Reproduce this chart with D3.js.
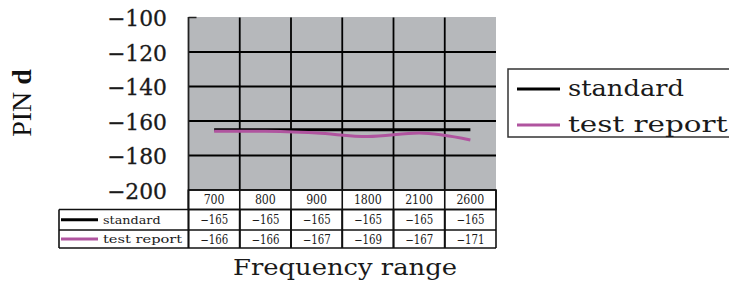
<!DOCTYPE html>
<html><head><meta charset="utf-8">
<script src="https://cdn.jsdelivr.net/npm/d3@7/dist/d3.min.js"></script>
<style>body{margin:0;background:#fff;}svg{display:block;}</style>
</head><body>
<script>
const categories = ["700","800","900","1800","2100","2600"];
const standard = [-165,-165,-165,-165,-165,-165];
const testReport = [-166,-166,-167,-169,-167,-171];
const yTicks = [-100,-120,-140,-160,-180,-200];
const seriesNames = ["standard","test report"];
const colors = ["#000000","#b0549f"];

const W=729,H=283;
const svg=d3.select("body").append("svg").attr("width",W).attr("height",H);
const serif="'DejaVu Serif', serif";
const L=188.5,R=496,T=17.5,B=190;
const x=d3.scaleBand().domain(categories).range([L,R]);
const y=d3.scaleLinear().domain([-200,-100]).range([B,T]);
const fmt=d=>String(d).replace("-","\u2212");

svg.append("rect").attr("x",L).attr("y",T-0.5).attr("width",R-L).attr("height",B-T+0.5).attr("fill","#b6b8bb");

svg.append("g").selectAll("line").data(yTicks.filter(d=>d>-200 && d<-100)).join("line")
 .attr("x1",L).attr("x2",R).attr("y1",d=>y(d)).attr("y2",d=>y(d))
 .attr("stroke","#000").attr("stroke-width",1.8);
svg.append("g").selectAll("line").data(categories.slice(1)).join("line")
 .attr("x1",d=>x(d)).attr("x2",d=>x(d)).attr("y1",T).attr("y2",248)
 .attr("stroke","#000").attr("stroke-width",1.8);
svg.append("line").attr("x1",L).attr("x2",L).attr("y1",T-0.5).attr("y2",248).attr("stroke","#222").attr("stroke-width",1.8);
svg.append("line").attr("x1",L).attr("x2",L+8).attr("y1",T).attr("y2",T).attr("stroke","#222").attr("stroke-width",1.5);

svg.append("g").selectAll("text").data(yTicks).join("text")
 .attr("x",167).attr("y",d=>y(d)).attr("dy","0.4em").attr("text-anchor","end")
 .attr("font-family",serif).attr("font-size",21.5).attr("fill","#1a1a1a")
 .attr("stroke","#1a1a1a").attr("stroke-width",0.3)
 .attr("textLength",60).attr("lengthAdjust","spacingAndGlyphs")
 .text(fmt);

const yt=svg.append("text").attr("transform","translate(31,103) rotate(-90)")
 .attr("text-anchor","middle").attr("font-family","'Liberation Serif', serif").attr("font-size",28).attr("fill","#111");
yt.append("tspan").text("PIN ");
yt.append("tspan").attr("font-weight","bold").text("d");

const line=d3.line().x((d,i)=>x(categories[i])+x.bandwidth()/2).y(d=>y(d)).curve(d3.curveMonotoneX);
svg.append("path").datum(standard).attr("d",line).attr("fill","none").attr("stroke",colors[0]).attr("stroke-width",3);
svg.append("path").datum(testReport).attr("d",line).attr("fill","none").attr("stroke",colors[1]).attr("stroke-width",3);

const tl=59, r1=190, r2=209.5, r3=230, r4=248;
const tg=svg.append("g").attr("stroke","#111").attr("stroke-width",1.6);
tg.append("rect").attr("x",L).attr("y",r1).attr("width",R-L).attr("height",r2-r1).attr("fill","#fff");
tg.append("line").attr("x1",L).attr("x2",R).attr("y1",r1).attr("y2",r1);
tg.append("line").attr("x1",tl).attr("x2",R).attr("y1",r2).attr("y2",r2);
tg.append("line").attr("x1",tl).attr("x2",R).attr("y1",r3).attr("y2",r3);
tg.append("line").attr("x1",tl).attr("x2",R).attr("y1",r4).attr("y2",r4);
tg.append("line").attr("x1",tl).attr("x2",tl).attr("y1",r2).attr("y2",r4);
tg.append("line").attr("x1",R).attr("x2",R).attr("y1",r1).attr("y2",r4);
tg.selectAll("line.v").data(categories.slice(1)).join("line")
 .attr("x1",d=>x(d)).attr("x2",d=>x(d)).attr("y1",r1).attr("y2",r4);
tg.append("line").attr("x1",L).attr("x2",L).attr("y1",r1).attr("y2",r4);

const cellText=(g,data,yy)=>g.selectAll(null).data(data).join("text")
 .attr("x",(d,i)=>x(categories[i])+x.bandwidth()/2).attr("y",yy).attr("text-anchor","middle")
 .attr("font-family",serif).attr("font-size",12).attr("fill","#1a1a1a")
 .attr("textLength",d=>fmt(d).length*7).attr("lengthAdjust","spacingAndGlyphs")
 .text(fmt);
const tt=svg.append("g");
cellText(tt,categories,(r1+r2)/2+4.5);
cellText(tt,standard,(r2+r3)/2+4.5);
cellText(tt,testReport,(r3+r4)/2+4.5);
[[standard,r2,r3],[testReport,r3,r4]].forEach((row,i)=>{
  const cy=(row[1]+row[2])/2;
  svg.append("line").attr("x1",61).attr("x2",98).attr("y1",cy).attr("y2",cy).attr("stroke",colors[i]).attr("stroke-width",3);
  svg.append("text").attr("x",103).attr("y",cy+4).attr("font-family",serif).attr("font-size",11.5)
   .attr("fill","#1a1a1a").attr("textLength",seriesNames[i].length*7.2).attr("lengthAdjust","spacingAndGlyphs").text(seriesNames[i]);
});

svg.append("text").attr("x",233).attr("y",275)
 .attr("font-family",serif).attr("font-size",22).attr("fill","#1a1a1a")
 .attr("textLength",224).attr("lengthAdjust","spacingAndGlyphs")
 .text("Frequency range");

const lg=svg.append("g");
lg.append("rect").attr("x",508).attr("y",69).attr("width",230).attr("height",68).attr("fill","#fff").attr("stroke","#333").attr("stroke-width",1.5);
seriesNames.forEach((n,i)=>{
  const cy=89+i*36;
  lg.append("line").attr("x1",517).attr("x2",560).attr("y1",cy).attr("y2",cy).attr("stroke",colors[i]).attr("stroke-width",3);
  lg.append("text").attr("x",568).attr("y",cy+7).attr("font-family",serif).attr("font-size",22)
   .attr("fill","#1a1a1a").attr("textLength",n.length*14.5).attr("lengthAdjust","spacingAndGlyphs").text(n);
});
</script>
</body></html>
